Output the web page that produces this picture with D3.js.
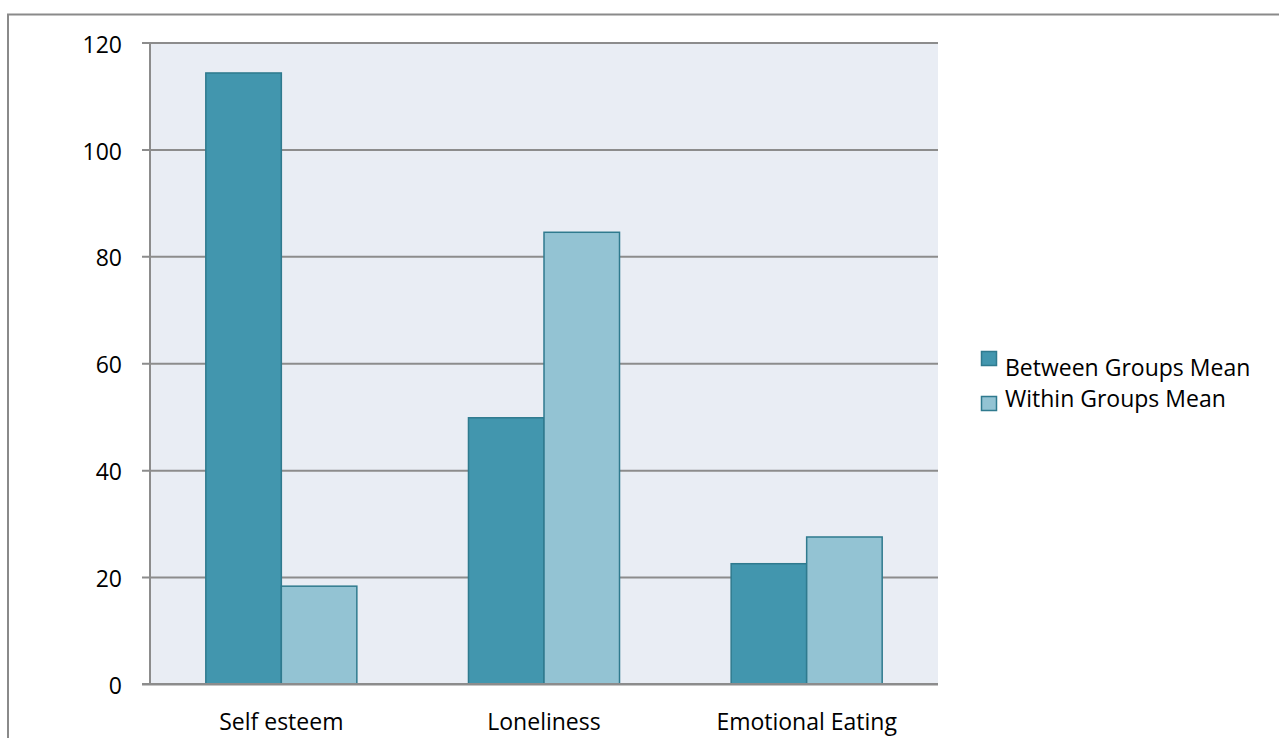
<!DOCTYPE html>
<html>
<head>
<meta charset="utf-8">
<script src="https://cdn.jsdelivr.net/npm/d3@7"></script>
<style>
  html, body { margin: 0; padding: 0; background: #fff; }
  svg { display: block; }
  text { font-family: "Open Sans", "Noto Sans", sans-serif; fill: #000; }
</style>
</head>
<body>
<svg id="chart" width="1279" height="738"></svg>
<script>
// Data
const categories = ["Self esteem", "Loneliness", "Emotional Eating"];
const seriesNames = ["Between Groups Mean", "Within Groups Mean"];
const betweenGroups = [114.3, 49.8, 22.5];
const withinGroups = [18.3, 84.5, 27.5];
const yTicks = [0, 20, 40, 60, 80, 100, 120];

const seriesValues = [betweenGroups, withinGroups];
const fills = ["#4296ae", "#93c3d3"];
const strokes = ["#2f7a8e", "#2f7a8e"];
const fontSize = 23;

const svg = d3.select("#chart");

// Outer chart frame
svg.append("rect")
  .attr("x", 8).attr("y", 14.5)
  .attr("width", 1300).attr("height", 760)
  .attr("fill", "none").attr("stroke", "#8a8a8a").attr("stroke-width", 2);

const plot = { left: 150, right: 938, top: 42.5, bottom: 684 };

const x = d3.scaleBand()
  .domain(categories)
  .range([plot.left, plot.right])
  .paddingInner(0)
  .paddingOuter(0);

const y = d3.scaleLinear()
  .domain([0, 120])
  .range([plot.bottom, plot.top]);

// Plot background
svg.append("rect")
  .attr("x", plot.left).attr("y", plot.top)
  .attr("width", plot.right - plot.left)
  .attr("height", plot.bottom - plot.top)
  .attr("fill", "#e9edf4");

// Horizontal gridlines (extending past the axis as tick marks)
const gy = svg.append("g")
  .attr("transform", `translate(${plot.right},0)`)
  .call(d3.axisLeft(y).tickValues(yTicks).tickSize(plot.right - plot.left + 8).tickFormat(""));
gy.select(".domain").remove();
gy.selectAll(".tick line").attr("stroke", "#8c8c8c").attr("stroke-width", 2);

// Tick labels
svg.append("g")
  .selectAll("text")
  .data(yTicks)
  .join("text")
  .attr("x", 122)
  .attr("y", d => y(d) + 4)
  .attr("text-anchor", "end")
  .attr("dominant-baseline", "middle")
  .attr("font-size", fontSize)
  .text(d => d);

// Left axis line
svg.append("line")
  .attr("x1", plot.left).attr("x2", plot.left)
  .attr("y1", plot.top).attr("y2", plot.bottom)
  .attr("stroke", "#8c8c8c").attr("stroke-width", 2);

// Bars
const barW = x.bandwidth() * 0.2875;
seriesValues.forEach((vals, si) => {
  svg.append("g")
    .selectAll("rect")
    .data(categories)
    .join("rect")
    .attr("x", d => x(d) + x.bandwidth() / 2 - barW + si * barW)
    .attr("y", (d, i) => y(vals[i]))
    .attr("width", barW)
    .attr("height", (d, i) => plot.bottom - y(vals[i]))
    .attr("fill", fills[si])
    .attr("stroke", strokes[si])
    .attr("stroke-width", 1.5);
});

// Baseline
svg.append("line")
  .attr("x1", plot.left - 8).attr("x2", plot.right)
  .attr("y1", plot.bottom).attr("y2", plot.bottom)
  .attr("stroke", "#8c8c8c").attr("stroke-width", 2);

// Category labels
svg.append("g")
  .selectAll("text")
  .data(categories)
  .join("text")
  .attr("x", d => x(d) + x.bandwidth() / 2)
  .attr("y", 730)
  .attr("text-anchor", "middle")
  .attr("font-size", fontSize)
  .text(d => d);

// Legend
const legend = svg.append("g");
const legendRows = [
  { sq: 351, text: 376 },
  { sq: 396, text: 407 }
];
seriesNames.forEach((name, i) => {
  legend.append("rect")
    .attr("x", 981.5).attr("y", legendRows[i].sq + 0.5)
    .attr("width", 15).attr("height", 14)
    .attr("fill", fills[i]).attr("stroke", strokes[i]).attr("stroke-width", 1.5);
  legend.append("text")
    .attr("x", 1005).attr("y", legendRows[i].text)
    .attr("font-size", fontSize)
    .text(name);
});
</script>
</body>
</html>
